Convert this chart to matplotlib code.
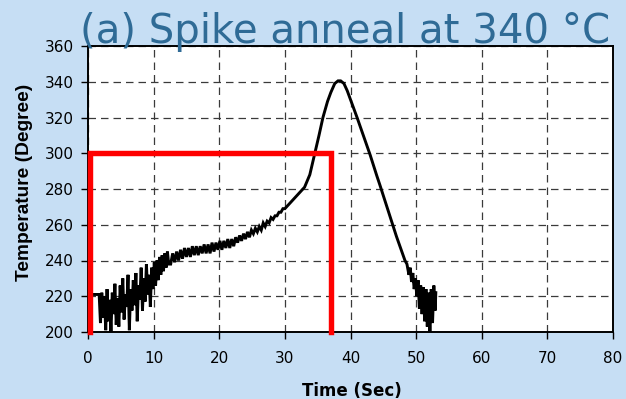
import matplotlib
matplotlib.use("Agg")
import matplotlib.pyplot as plt

# ---- data ----
time_s = [
    0.5, 0.9, 1.3, 1.7, 1.9, 2.1, 2.3, 2.5, 2.7, 2.9, 3.1, 3.3, 3.5, 3.7, 3.9,
    4.1, 4.3, 4.5, 4.7, 4.9, 5.1, 5.3, 5.5, 5.7, 5.9, 6.1, 6.3, 6.5, 6.7, 6.9,
    7.1, 7.3, 7.5, 7.7, 7.9, 8.1, 8.3, 8.5, 8.7, 8.9, 9.1, 9.3, 9.5, 9.7, 9.9,
    10.1, 10.3, 10.5, 10.7, 10.9, 11.1, 11.3, 11.5, 11.7, 11.9, 12.1, 12.3,
    12.6, 12.9, 13.2, 13.5, 13.8, 14.1, 14.4, 14.7, 15.0, 15.3, 15.6, 15.9,
    16.2, 16.5, 16.8, 17.1, 17.4, 17.7, 18.0, 18.3, 18.6, 18.9, 19.2, 19.5,
    19.8, 20.1, 20.4, 20.7, 21.0, 21.3, 21.6, 21.9, 22.2, 22.5, 22.8, 23.1,
    23.4, 23.7, 24.0, 24.3, 24.6, 24.9, 25.2, 25.5, 25.8, 26.1, 26.4, 26.7,
    27.0, 27.3, 27.6, 27.9, 28.2, 28.5, 28.8, 29.1, 29.4, 29.7, 30.0,
    31.0, 32.0, 33.0, 33.8, 34.5, 35.2, 35.8, 36.5, 37.0, 37.6, 38.1, 38.5,
    39.0, 39.5, 40.0, 40.4, 41.0, 42.0, 43.0, 44.0, 44.5, 45.2, 46.0, 47.0,
    48.0, 48.3, 48.6, 48.9, 49.1, 49.3, 49.5, 49.7, 49.9, 50.1, 50.3, 50.5,
    50.7, 50.9, 51.1, 51.3, 51.5, 51.7, 51.9, 52.1, 52.3, 52.5, 52.7, 52.9, 53.0,
]
temp_c = [
    221, 221, 221, 221, 205, 222, 208, 220, 201, 224, 206, 218, 200, 222, 210,
    227, 204, 219, 203, 226, 211, 230, 207, 221, 214, 232, 201, 224, 212, 229,
    215, 233, 206, 226, 218, 236, 212, 230, 217, 238, 221, 232, 214, 236, 224,
    239, 226, 240, 229, 242, 232, 243, 234, 244, 236, 245, 238,
    238, 244, 239, 245, 240, 246, 241, 247, 242, 247, 242, 248,
    243, 248, 243, 248, 244, 249, 244, 249, 244, 250, 245, 250,
    246, 251, 246, 251, 247, 252, 247, 252, 248, 253, 250, 254,
    251, 255, 252, 256, 253, 257, 255, 258, 256, 259, 257, 261,
    259, 262, 261, 264, 263, 265, 265, 267, 267, 269, 269,
    273, 277, 281, 288, 299, 310, 320, 329, 334, 339, 340.5, 340.5,
    339, 335, 330, 326, 320, 309.5, 299, 287.5, 282, 274, 265, 253.5,
    243, 240, 238, 232, 236, 228, 233, 224, 230, 220, 229, 213,
    226, 210, 225, 206, 224, 203, 222, 200, 224, 205, 226, 212, 222,
]
window_t = [0.35, 0.35, 37.1, 37.1]
window_T = [200, 300, 300, 200]

x_ticks = [0, 10, 20, 30, 40, 50, 60, 70, 80]
y_ticks = [200, 220, 240, 260, 280, 300, 320, 340, 360]

title = "(a) Spike anneal at 340 °C"
xlabel = "Time (Sec)"
ylabel = "Temperature (Degree)"

bg = "#C6DEF4"

fig = plt.figure(figsize=(6.26, 3.99), dpi=100, facecolor=bg)
ax = fig.add_axes([88 / 626, 1 - 332 / 399, (613 - 88) / 626, (332 - 46) / 399])
ax.set_facecolor("white")

ax.plot(time_s, temp_c, color="black", linewidth=2.1, zorder=3, solid_joinstyle="miter")
ax.plot(window_t, window_T, color="#FF0000", linewidth=3.9, zorder=4,
        solid_joinstyle="miter", clip_on=False)

ax.set_xlim(0, 80)
ax.set_ylim(200, 360)
ax.set_xticks(x_ticks)
ax.set_yticks(y_ticks)
ax.grid(True, color="#3a3a3a", linestyle=(0, (6, 4)), linewidth=0.9)
ax.set_axisbelow(True)

for s in ax.spines.values():
    s.set_color("black")
    s.set_linewidth(1.4)

ax.tick_params(direction="out", length=5, width=1, colors="black", labelsize=11)
ax.tick_params(axis="x", pad=9)
ax.tick_params(axis="y", pad=5)
for lab in ax.get_xticklabels() + ax.get_yticklabels():
    lab.set_fontfamily("DejaVu Sans")

ax.set_xlabel(xlabel, fontfamily="DejaVu Sans", fontweight="bold", fontsize=12,
              va="baseline", ha="center")
ax.xaxis.set_label_coords((352 - 88) / 525, (332 - 396) / 286)
ax.set_ylabel(ylabel, fontfamily="Liberation Sans", fontweight="bold", fontsize=13.8,
              va="center", ha="center")
ax.yaxis.set_label_coords((24.5 - 88) / 525, (332 - 182) / 286)

fig.text(345 / 626, 1 - 43 / 399, title, ha="center", va="baseline",
         fontsize=29, color="#2F6B96", fontfamily="DejaVu Sans", zorder=10)

fig.savefig("out.png", dpi=100, facecolor=bg)
